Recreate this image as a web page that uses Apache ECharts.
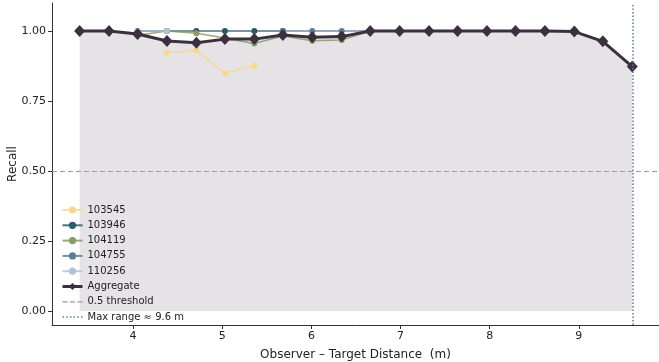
<!DOCTYPE html>
<html><head><meta charset="utf-8">
<script src="https://cdn.jsdelivr.net/npm/echarts@6/dist/echarts.min.js"></script>
<style>html,body{margin:0;padding:0;background:#fff}#c{width:659px;height:362px}</style>
</head><body><div id="c"></div>
<script>
const distances = [3.40, 3.73, 4.05, 4.38, 4.71, 5.03, 5.36, 5.68, 6.01, 6.34, 6.66, 6.99, 7.32, 7.64, 7.97, 8.29, 8.62, 8.95, 9.27, 9.60];
const s103545 = [null, null, null, 0.923, 0.930, 0.849, 0.876, null, null, null, null, null, null, null, null, null, null, null, null, null];
const s103946 = [null, null, 1.0, 1.0, 1.0, 1.0, 1.0, 1.0, null, null, null, null, null, null, null, null, null, null, null, null];
const s104119 = [null, null, 0.985, 1.0, 0.992, 0.975, 0.955, 0.982, 0.965, 0.968, 1.0, null, null, null, null, null, null, null, null, null];
const s104755 = [null, null, null, null, null, null, null, 1.0, 1.0, 1.0, 1.0, null, null, null, null, null, null, null, null, null];
const s110256 = [null, null, 1.0, 1.0, null, null, null, null, null, null, null, null, null, null, null, null, null, null, null, null];
const aggregate = [1.0, 1.0, 0.989, 0.964, 0.958, 0.971, 0.971, 0.986, 0.978, 0.980, 1.0, 1.0, 1.0, 1.0, 1.0, 1.0, 1.0, 0.998, 0.963, 0.873];
const xTicks = [4, 5, 6, 7, 8, 9];
const yTicks = [0, 0.25, 0.5, 0.75, 1.0];
const threshold = 0.5;
const maxRange = 9.6;

const pairs = arr => distances.map((x, i) => [x, arr[i]]);
const FONT = 'DejaVu Sans';
const runs = [
  {name: '103545', data: s103545, color: '#f7d88c'},
  {name: '103946', data: s103946, color: '#2d5a66'},
  {name: '104119', data: s104119, color: '#8a9a68'},
  {name: '104755', data: s104755, color: '#5a7e98'},
  {name: '110256', data: s110256, color: '#adc4db'}
];
const series = [{
  name: 'aggregate-fill', type: 'line', data: pairs(aggregate), symbol: 'none', silent: true,
  lineStyle: {width: 0, opacity: 0}, itemStyle: {color: '#e6e3e7'},
  areaStyle: {color: '#e6e3e7', opacity: 1, origin: 'auto'}, z: 0
}];
series.push({
  name: '0.5 threshold', type: 'line', data: [], symbol: 'none', z: 1,
  itemStyle: {color: '#999999'},
  lineStyle: {color: '#999999', width: 1.2, type: [5, 3]},
  markLine: {symbol: 'none', silent: true, label: {show: false},
    lineStyle: {color: '#999999', width: 1.2, type: [5, 3]}, data: [{yAxis: threshold}]}
});
runs.forEach(r => series.push({
  name: r.name, type: 'line', data: pairs(r.data), symbol: 'circle', symbolSize: 6,
  itemStyle: {color: r.color}, lineStyle: {color: r.color, width: 1.6, opacity: 0.85},
  connectNulls: false, z: 2
}));
series.push({
  name: 'Aggregate', type: 'line', data: pairs(aggregate), symbol: 'diamond', symbolSize: [11, 12],
  itemStyle: {color: '#3c2f3f'}, lineStyle: {color: '#3c2f3f', width: 3}, z: 3
});
series.push({
  name: 'Max range ≈ 9.6 m', type: 'line', data: [], symbol: 'none', z: 4,
  itemStyle: {color: '#5b7f94'},
  lineStyle: {color: '#5b7f94', width: 1.5, type: [1.5, 2]},
  markLine: {symbol: 'none', silent: true, label: {show: false},
    lineStyle: {color: '#5b7f94', width: 1.5, type: [1.5, 2]}, data: [{xAxis: maxRange}]}
});

const chart = echarts.init(document.getElementById('c'));
chart.setOption({
  animation: false,
  textStyle: {fontFamily: FONT},
  grid: {left: 52, right: 0, top: 3, bottom: 37, containLabel: false, outerBoundsMode: 'none'},
  xAxis: {
    type: 'value', min: 3.09, max: 9.9,
    name: 'Observer – Target Distance  (m)', nameLocation: 'middle', nameGap: 24, nameMoveOverlap: false,
    nameTextStyle: {fontSize: 12, color: '#222', fontFamily: FONT},
    axisLine: {onZero: false, lineStyle: {color: '#333', width: 1}},
    axisTick: {show: true, length: 4, lineStyle: {color: '#333'}, customValues: xTicks},
    axisLabel: {color: '#222', fontSize: 11, margin: 6, customValues: xTicks, fontFamily: FONT},
    splitLine: {show: false}
  },
  yAxis: {
    type: 'value', min: -0.05, max: 1.1,
    name: 'Recall', nameLocation: 'middle', nameGap: 33, nameRotate: 90, nameMoveOverlap: false,
    nameTextStyle: {fontSize: 12, color: '#222', fontFamily: FONT},
    axisLine: {show: true, onZero: false, lineStyle: {color: '#333', width: 1}},
    axisTick: {show: true, length: 4, lineStyle: {color: '#333'}, customValues: yTicks},
    axisLabel: {color: '#222', fontSize: 11, margin: 6, customValues: yTicks,
      formatter: v => v.toFixed(2), fontFamily: FONT},
    splitLine: {show: false}
  },
  legend: {
    orient: 'vertical', left: 61, top: 205, padding: 0, z: 10,
    itemWidth: 20, itemHeight: 9, itemGap: 5.3,
    textStyle: {fontSize: 10, color: '#222', fontFamily: FONT},
    data: ['103545', '103946', '104119', '104755', '110256',
      {name: 'Aggregate', lineStyle: {width: 3}},
      {name: '0.5 threshold', icon: 'path://M0,4h5v1.2h-5z M7.5,4h5v1.2h-5z M15,4h5v1.2h-5z'},
      {name: 'Max range ≈ 9.6 m', icon: 'path://M0,4h1.5v1.5h-1.5z M3.7,4h1.5v1.5h-1.5z M7.4,4h1.5v1.5h-1.5z M11.1,4h1.5v1.5h-1.5z M14.8,4h1.5v1.5h-1.5z M18.5,4h1.5v1.5h-1.5z'}]
  },
  series: series
});
</script></body></html>
